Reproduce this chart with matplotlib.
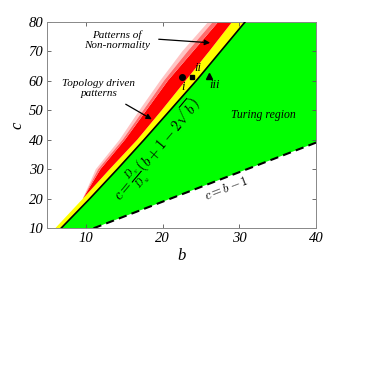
import matplotlib
matplotlib.use("Agg")
import matplotlib.pyplot as plt
import numpy as np

plt.rcParams['mathtext.fontset'] = 'cm'

# boundary readings: b-values at given c levels
c_levels = [10, 20, 30, 40, 50, 60, 70, 80]
b_solid = [6.76, 10.5, 14.1, 17.6, 21.0, 24.4, 27.6, 30.8]       # c = Dv/Du (b+1-2sqrt b)
b_yellow = [6.0, 9.6, 13.1, 16.7, 19.9, 23.0, 26.1, 29.1]       # left edge of yellow band
c_red = [20, 30, 40, 50, 60, 70, 80]
b_red = [9.6, 11.9, 15.1, 17.9, 20.7, 24.0, 27.3]                # left edge of solid red
b_fringe_in = [9.6, 11.6, 14.8, 17.5, 20.2, 23.3, 26.6]          # dense speckle edge
b_fringe = [9.6, 11.3, 14.4, 17.0, 19.7, 22.6, 26.0]             # sparse speckle edge
b_dash = [11, 40]
c_dash = [10, 39]

# points
pt_b = [22.5, 23.9, 26.0]
pt_c = [61.3, 61.3, 61.5]
pt_markers = ['o', 's', '^']
pt_labels = ['i', 'ii', 'iii']

xticks = [10, 20, 30, 40]
yticks = [10, 20, 30, 40, 50, 60, 70, 80]

fig = plt.figure(figsize=(3.76, 3.89), dpi=100)
ax = fig.add_axes([0.1263, 0.4131, 0.7141, 0.5316])
ax.set_xlim(5, 40)
ax.set_ylim(10, 80)

# green region
gb = b_solid + [40, 40] + b_dash[::-1]
gc = c_levels + [80, 39] + c_dash[::-1]
ax.fill(gb, gc, color='#00ff00', lw=0, zorder=1)

# yellow band
ax.fill(b_yellow + b_solid[::-1], c_levels + c_levels[::-1], color='#ffff00', lw=0, zorder=1)

# red band (starting at c=20 on the yellow edge)
yb = [b for b, c in zip(b_yellow, c_levels) if c >= 20]
yc = [c for c in c_levels if c >= 20]
ax.fill(b_red + yb[::-1], c_red + yc[::-1], color='#ff0000', lw=0, zorder=1)

# speckled fringe, approximated by two lighter bands
ax.fill(b_fringe + b_fringe_in[::-1], c_red + c_red[::-1], color='#ffc4c4', lw=0, zorder=1)
ax.fill(b_fringe_in + b_red[::-1], c_red + c_red[::-1], color='#ff6a6a', lw=0, zorder=1)

ax.plot(b_solid, c_levels, color='k', lw=1.2, zorder=3)
ax.plot(b_dash, c_dash, color='k', lw=1.5, ls=(0, (4, 2.5)), zorder=3)

for b, c, m in zip(pt_b, pt_c, pt_markers):
    ax.plot([b], [c], marker=m, color='k', ms=4 if m != 's' else 3.5, ls='none', zorder=4)

tfont = dict(family='Liberation Serif', style='italic')
lab_b = [22.7, 24.6, 26.8]
lab_c = [57.8, 64.3, 58.5]
for b, c, lab in zip(lab_b, lab_c, pt_labels):
    ax.text(b, c, lab, ha='center', va='center', fontsize=9, zorder=5, **tfont)

arrow = dict(arrowstyle='-|>', color='k', lw=0.9, mutation_scale=8, shrinkA=0, shrinkB=0)
ax.text(14.1, 73.7, 'Patterns of\nNon-normality', ha='center', va='center', fontsize=8,
        linespacing=1.25, zorder=5, **tfont)
ax.annotate('', xy=(26.2, 72.8), xytext=(19.5, 74.0), arrowprops=arrow, zorder=5)
ax.text(11.7, 57.3, 'Topology driven\npatterns', ha='center', va='center', fontsize=8,
        linespacing=1.25, zorder=5, **tfont)
ax.annotate('', xy=(18.6, 46.9), xytext=(15.2, 52.0), arrowprops=arrow, zorder=5)
ax.text(33.2, 48.3, 'Turing region', ha='center', va='center', fontsize=8.5, zorder=5, **tfont)

ax.text(19.6, 36.0, r'$c=\frac{D_v}{D_u}\left(b+1-2\sqrt{b}\right)$', rotation=50,
        ha='center', va='center', rotation_mode='anchor', fontsize=10.5, zorder=5)
ax.text(28.3, 23.6, r'$c=b-1$', rotation=21, ha='center', va='center',
        rotation_mode='anchor', fontsize=9, zorder=5)

ax.set_xticks(xticks)
ax.set_yticks(yticks)
ax.set_xticklabels([str(t) for t in xticks], fontsize=10.5, **tfont)
ax.set_yticklabels([str(t) for t in yticks], fontsize=10.5, **tfont)
ax.tick_params(direction='in', length=3, width=0.6, color='#555555', top=True, right=True, pad=3)
for s in ax.spines.values():
    s.set_color('#888888')
    s.set_linewidth(0.7)
ax.set_xlabel('b', fontsize=12, labelpad=2, **tfont)
ax.set_ylabel('c', fontsize=12, labelpad=2, **tfont)

fig.savefig('out.png', dpi=100)
